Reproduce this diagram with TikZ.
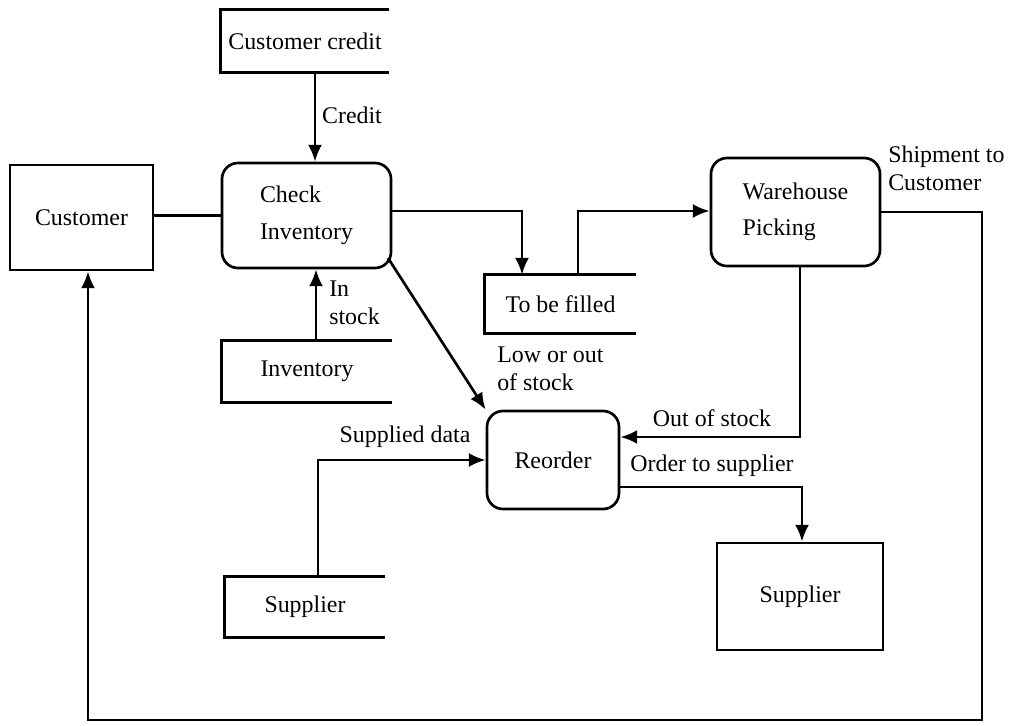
\documentclass[tikz,border=0pt]{standalone}
\usepackage{fontspec}
\setmainfont{Liberation Serif}
\usetikzlibrary{arrows.meta}
\tikzset{
  ln/.style={line width=1.9pt},
  arr/.style={ln,-{Latex[length=12pt,width=10pt]}},
  box/.style={ln,draw,rectangle,inner sep=0pt,font=\fontsize{17}{19.5}\selectfont},
  proc/.style={box,rounded corners=0.4cm,align=left},
  store/.style={rectangle,inner sep=0pt,font=\fontsize{17}{19.5}\selectfont},
  lbl/.style={inner sep=0pt,font=\fontsize{17}{19.5}\selectfont,align=left}
}
\begin{document}
\begin{tikzpicture}[x=0.025cm,y=-0.025cm]
\useasboundingbox (0,0) rectangle (1010,725);
% nodes
\node[store,minimum width=4.2cm,minimum height=1.55cm] (ccredit) at (305,41) {Customer credit};
\node[proc,minimum width=4.225cm,minimum height=2.625cm] (check) at (306.5,215.5) {Check\\[7pt]Inventory};
\node[box,minimum width=3.575cm,minimum height=2.625cm] (customer) at (81.5,217.5) {Customer};
\node[store,minimum width=3.775cm,minimum height=1.45cm] (tbf) at (560.5,304) {To be filled};
\node[proc,minimum width=4.225cm,minimum height=2.7cm] (wh) at (795.5,212) {Warehouse\\[6pt]Picking};
\node[store,minimum width=4.25cm,minimum height=1.525cm] (inv) at (307,371.5) {Inventory};
\node[proc,minimum width=3.3cm,minimum height=2.45cm] (reorder) at (553,460) {Reorder};
\node[store,minimum width=4.0cm,minimum height=1.5cm] (sup1) at (305,607) {Supplier};
\node[box,minimum width=4.15cm,minimum height=2.675cm] (sup2) at (800,596.5) {Supplier};
% open data stores
\foreach \n in {ccredit,tbf,inv,sup1}
  \draw[ln] (\n.north east) -- (\n.north west) -- (\n.south west) -- (\n.south east);
% helper coordinates
\coordinate (x315) at (315,0);
\coordinate (x316) at (316,0);
\coordinate (x318) at (318,0);
\coordinate (x522) at (522,0);
\coordinate (x578) at (578,0);
\coordinate (x800) at (800,0);
\coordinate (x802) at (802,0);
\coordinate (x88) at (88,0);
\coordinate (y211) at (0,211);
\coordinate (y437) at (0,437);
\coordinate (y487) at (0,487);
\coordinate (br) at (982,720);
\coordinate (diag) at (388,258);
% connectors
\draw[arr] (ccredit.south -| x315) -- (check.north -| x315);
\draw[ln] (customer.east |- check.west) -- (check.west);
\draw[arr] (check.east |- y211) -| (tbf.north -| x522);
\draw[arr] (tbf.north -| x578) |- (wh.west |- y211);
\draw[arr] (inv.north -| x316) -- (check.south -| x316);
\draw[arr] (diag) -- (reorder.north west);
\draw[arr] (wh.south -| x800) |- (reorder.east |- y437);
\draw[arr] (reorder.east |- y487) -| (sup2.north -| x802);
\draw[arr] (sup1.north -| x318) |- (reorder.west);
\draw[arr] (wh.east) -| (br) -| (customer.south -| x88);
% labels
\node[lbl] (lcredit) at (352,115) {Credit};
\node[lbl,anchor=north west] (lstock) at (329,281) {In\\stock};
\node[lbl,anchor=north west] (llow) at (497,347) {Low or out\\of stock};
\node[lbl] (lout) at (712,418) {Out of stock};
\node[lbl] (lorder) at (712,466) {Order to supplier};
\node[lbl] (lsupd) at (405,437) {Supplied data};
\node[lbl,anchor=north west] (lship) at (888,146) {Shipment to\\Customer};
\end{tikzpicture}
\end{document}
